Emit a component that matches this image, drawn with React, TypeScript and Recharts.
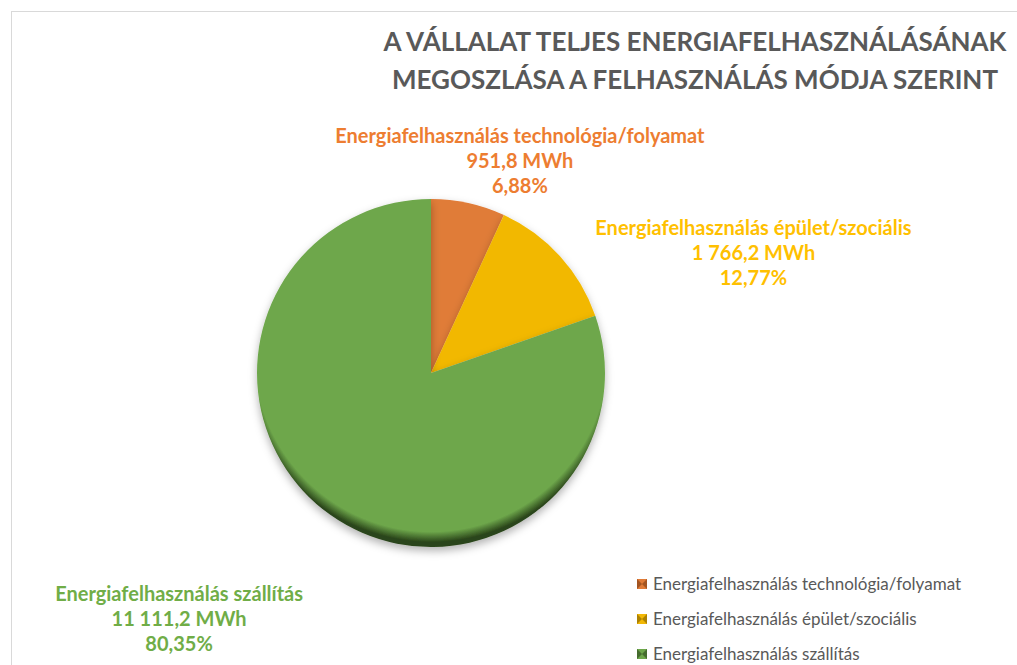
import { PieChart, Pie, Cell, Legend } from "recharts";

// adatok
const categories = [
  "Energiafelhasználás technológia/folyamat",
  "Energiafelhasználás épület/szociális",
  "Energiafelhasználás szállítás",
];
const mwhValues = [951.8, 1766.2, 11111.2];
const titleLines = [
  "A VÁLLALAT TELJES ENERGIAFELHASZNÁLÁSÁNAK",
  "MEGOSZLÁSA A FELHASZNÁLÁS MÓDJA SZERINT",
];

const sliceColors = ["#E07B37", "#F2B806", "#6EA74B"];
const darkColors = ["#7A3A12", "#7E5E00", "#2A451A"];
const labelColors = ["#ED7D31", "#FFC000", "#70AD47"];

// címkék eltolása (px) a szelet közepéhez képest
const LABEL_NUDGE: Array<[number, number]> = [
  [43, 4],
  [164, 31],
  [-128, 79],
];

const FONT = "Lato, 'Open Sans', sans-serif";

const total = mwhValues.reduce((a, b) => a + b, 0);
const data = categories.map((name, i) => ({ name, value: mwhValues[i] }));

const fmtMWh = (v: number) => {
  const [i, d] = v.toFixed(1).split(".");
  return i.replace(/\B(?=(\d{3})+(?!\d))/g, " ") + "," + d + " MWh";
};
const fmtPct = (v: number) => ((v / total) * 100).toFixed(2).replace(".", ",") + "%";

const renderLabel = (props: any) => {
  const { cx, cy, midAngle, outerRadius, index } = props;
  const RAD = Math.PI / 180;
  const r = outerRadius + 40;
  const x = cx + r * Math.cos(-midAngle * RAD) + LABEL_NUDGE[index][0];
  const y = cy + r * Math.sin(-midAngle * RAD) + LABEL_NUDGE[index][1];
  return (
    <text
      x={x}
      y={y}
      textAnchor="middle"
      fill={labelColors[index]}
      fontFamily={FONT}
      fontWeight="bold"
      fontSize={20}
    >
      <tspan x={x} dy={-25}>{categories[index]}</tspan>
      <tspan x={x} dy={25}>{fmtMWh(mwhValues[index])}</tspan>
      <tspan x={x} dy={25}>{fmtPct(mwhValues[index])}</tspan>
    </text>
  );
};

const LegendIcon = ({ i }: { i: number }) => (
  <svg width={10} height={10} style={{ marginRight: 6, flex: "none" }}>
    <rect x={0} y={0} width={10} height={10} fill={sliceColors[i]} />
    <polygon points="0,0 5,5 0,10" fill={darkColors[i]} opacity={0.6} />
    <polygon points="10,0 5,5 10,10" fill={darkColors[i]} opacity={0.6} />
  </svg>
);

const renderLegend = () => (
  <div style={{ fontFamily: FONT, fontSize: 17, color: "#595959" }}>
    {categories.map((c, i) => (
      <div key={c} style={{ display: "flex", alignItems: "center", height: 35 }}>
        <LegendIcon i={i} />
        <span>{c}</span>
      </div>
    ))}
  </div>
);

export default function App() {
  return (
    <div style={{ position: "absolute", left: 0, top: 0, width: 1017, height: 665, background: "#fff", overflow: "hidden" }}>
      <div
        style={{
          position: "absolute",
          left: 11,
          top: 11,
          width: 1100,
          height: 700,
          borderTop: "1px solid #d9d9d9",
          borderLeft: "1px solid #d9d9d9",
        }}
      />
      <PieChart width={1017} height={665} style={{ position: "absolute", left: 0, top: 0 }}>
        <defs>
          {sliceColors.map((c, i) => (
            <radialGradient key={c} id={`grad${i}`} gradientUnits="userSpaceOnUse" cx={431} cy={355} r={190}>
              <stop offset="0" stopColor={c} />
              <stop offset="0.93" stopColor={c} />
              <stop offset="0.985" stopColor={darkColors[i]} />
              <stop offset="1" stopColor={darkColors[i]} />
            </radialGradient>
          ))}
          <filter id="pieShadow" x="-20%" y="-20%" width="140%" height="140%">
            <feDropShadow dx={0} dy={4} stdDeviation={4} floodColor="#000" floodOpacity={0.3} />
          </filter>
        </defs>
        <Pie
          data={data}
          dataKey="value"
          nameKey="name"
          cx={426}
          cy={368}
          outerRadius={174}
          startAngle={90}
          endAngle={-270}
          stroke="none"
          label={renderLabel}
          labelLine={false}
          isAnimationActive={false}
        >
          {data.map((d, i) => (
            <Cell key={d.name} fill={`url(#grad${i})`} filter="url(#pieShadow)" />
          ))}
        </Pie>
        <Legend
          content={renderLegend}
          wrapperStyle={{ position: "absolute", left: 637, top: 566, width: 370 }}
        />
      </PieChart>
      <svg width={1017} height={110} style={{ position: "absolute", left: 0, top: 0, pointerEvents: "none" }}>
        {titleLines.map((t, i) => (
          <text
            key={t}
            x={695}
            y={51 + i * 38}
            textAnchor="middle"
            fill="#595959"
            fontFamily={FONT}
            fontWeight="bold"
            fontSize={26}
          >
            {t}
          </text>
        ))}
      </svg>
    </div>
  );
}
